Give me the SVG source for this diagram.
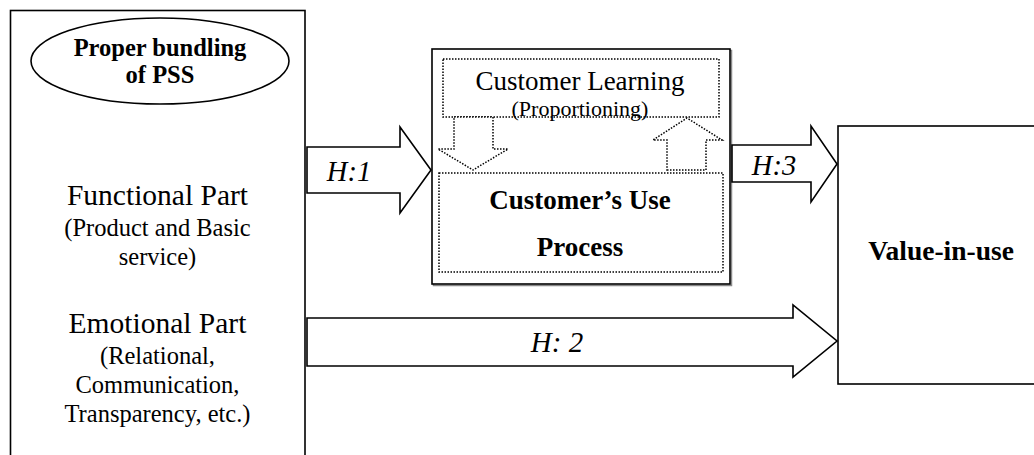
<svg xmlns="http://www.w3.org/2000/svg" width="1034" height="455" viewBox="0 0 1034 455">
<style>
text{font-family:"Liberation Serif","Times New Roman",serif;fill:#000;text-anchor:middle}
.b{font-weight:bold}
.i{font-style:italic}
.box{fill:#fff;stroke:#000;stroke-width:1.6}
.dot{fill:#fff;stroke:#000;stroke-width:1.5;stroke-dasharray:1.5 1.5}
.arr{fill:#fff;stroke:#000;stroke-width:1.6;stroke-linejoin:miter}
</style>
<rect width="1034" height="455" fill="#fff"/>
<g id="pss">
<rect class="box" x="10.5" y="10.5" width="294.5" height="470"/>
<ellipse class="box" cx="160" cy="61" rx="129" ry="43"/>
<text class="b" x="160" y="56" font-size="24.5">Proper bundling</text>
<text class="b" x="160" y="83" font-size="24.5">of PSS</text>
<text x="157.5" y="205" font-size="29.5">Functional Part</text>
<text x="157.5" y="236" font-size="24.5">(Product and Basic</text>
<text x="157.5" y="265" font-size="24.5">service)</text>
<text x="157.5" y="333" font-size="29.5">Emotional Part</text>
<text x="157.5" y="364" font-size="24.5">(Relational,</text>
<text x="157.5" y="393" font-size="24.5">Communication,</text>
<text x="157.5" y="422" font-size="24.5">Transparency, etc.)</text>
</g>
<g id="use-process">
<rect x="433.5" y="50.5" width="298" height="235" fill="none" stroke="#888" stroke-width="1.5"/>
<rect class="box" x="432" y="49" width="298" height="235"/>
<g id="customer-learning">
<rect class="dot" x="443" y="59" width="276" height="58"/>
<text x="580" y="89.5" font-size="27">Customer Learning</text>
<text x="580" y="115.5" font-size="22">(Proportioning)</text>
</g>
<g id="customers-use">
<rect class="dot" x="439" y="173" width="284" height="99"/>
<text class="b" x="580" y="209" font-size="27">Customer’s Use</text>
<text class="b" x="580" y="256" font-size="27">Process</text>
</g>
<polygon class="dot" points="454,117 493,117 493,149 508,149 473,170 438,149 454,149"/>
<polygon class="dot" points="667,170 706,170 706,140 722,140 687,118 653,140 667,140"/>
</g>
<g id="value-in-use">
<rect class="box" x="838" y="126" width="220" height="258"/>
<text class="b" x="941" y="260" font-size="27.5">Value-in-use</text>
</g>
<g id="connectors">
<polygon class="arr" points="307,147 400,147 400,127 431,170 400,213 400,193 307,193"/>
<text class="i" x="349" y="181" font-size="28.5">H:1</text>
<polygon class="arr" points="732,145 811,145 811,126 837,164 811,202 811,182 732,182"/>
<text class="i" x="774" y="175" font-size="28.5">H:3</text>
<polygon class="arr" points="307,318 793,318 793,305 837,341 793,377 793,366 307,366"/>
<text class="i" x="557" y="352" font-size="29">H: 2</text>
</g>
</svg>
